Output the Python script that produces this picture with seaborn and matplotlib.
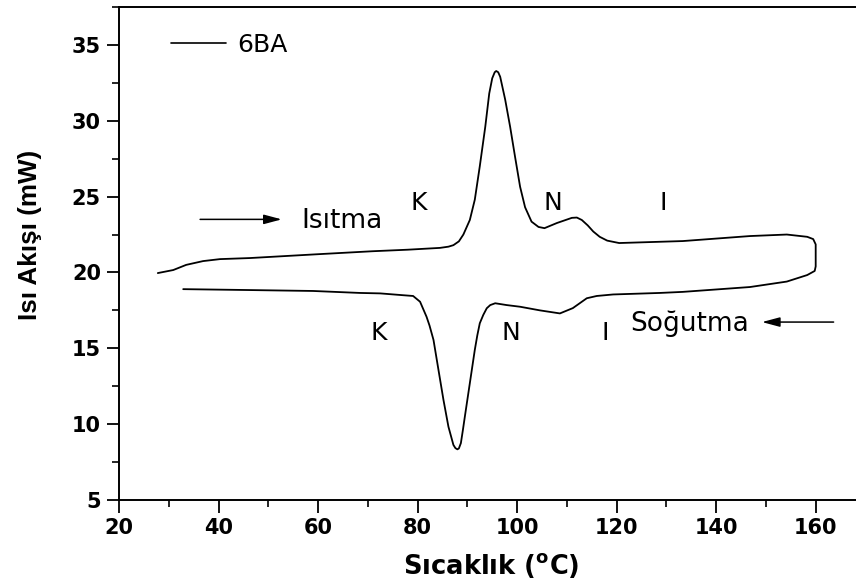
import numpy as np
import pandas as pd
import matplotlib
matplotlib.use("Agg")
import matplotlib.pyplot as plt
from matplotlib.ticker import MultipleLocator
import seaborn as sns

# DSC trace of 6BA: heating run (left to right), then cooling run (right to left)
heating_T = [27.8, 30.9, 33.5, 36.9, 40.3, 46.3, 59.8, 71.0, 78.0, 84.5, 86.2,
             87.2, 88.3, 89.2, 90.5, 91.5, 92.5, 93.6, 94.4, 95.0, 95.5, 95.8,
             96.2, 96.6, 97.6, 98.6, 99.6, 100.6, 101.6, 102.9, 104.3, 105.5,
             108.0, 111.0, 112.0, 113.0, 114.2, 115.3, 116.6, 118.1, 120.5,
             133.3, 146.8, 154.2, 158.3, 159.5, 160.0, 160.0, 159.8]
heating_Q = [19.96, 20.16, 20.5, 20.75, 20.88, 20.95, 21.2, 21.4, 21.5, 21.62,
             21.7, 21.8, 22.05, 22.5, 23.46, 24.8, 27.0, 29.6, 31.8, 32.8, 33.2,
             33.28, 33.2, 32.9, 31.4, 29.6, 27.6, 25.65, 24.3, 23.35, 23.0, 22.92,
             23.26, 23.6, 23.62, 23.46, 23.1, 22.7, 22.35, 22.1, 21.94, 22.07,
             22.4, 22.5, 22.35, 22.2, 21.85, 20.4, 20.1]

cooling_T = [158.3, 154.2, 146.8, 133.3, 128.7, 119.3, 116.0, 114.0, 111.2,
             108.6, 104.6, 100.6, 97.9, 95.6, 94.6, 93.9, 93.2, 92.5, 92.0,
             91.5, 90.5, 89.5, 89.1, 88.7, 88.3, 88.0, 87.6, 87.2, 86.2, 85.2,
             84.2, 83.2, 82.4, 81.8, 80.5, 79.1, 77.1, 72.5, 68.4, 59.0, 46.3,
             32.9]
cooling_Q = [19.83, 19.4, 19.04, 18.72, 18.65, 18.55, 18.45, 18.3, 17.65, 17.3,
             17.5, 17.74, 17.85, 17.97, 17.85, 17.64, 17.2, 16.65, 15.85, 14.9,
             12.7, 10.5, 9.6, 8.75, 8.4, 8.34, 8.42, 8.63, 9.83, 11.6, 13.57,
             15.55, 16.5, 17.08, 18.07, 18.45, 18.5, 18.62, 18.65, 18.78, 18.84,
             18.9]

x_ticks = [20, 40, 60, 80, 100, 120, 140, 160]
y_ticks = [5, 10, 15, 20, 25, 30, 35]

df = pd.DataFrame({
    "T": heating_T + cooling_T,
    "Q": heating_Q + cooling_Q,
})

sns.set_style("ticks")
plt.rcParams["font.family"] = ["DejaVu Sans"]
plt.rcParams["mathtext.default"] = "regular"
plt.rcParams["text.color"] = "black"
plt.rcParams["axes.labelcolor"] = "black"
plt.rcParams["xtick.color"] = "black"
plt.rcParams["ytick.color"] = "black"

fig = plt.figure(figsize=(8.56, 5.87), dpi=100)
ax = fig.add_axes([119 / 856, 87 / 587, 737 / 856, 493 / 587])

sns.lineplot(data=df, x="T", y="Q", sort=False, estimator=None,
             color="black", linewidth=1.3, label="6BA", ax=ax)

ax.set_xlim(20, 168.1)
ax.set_ylim(5, 37.5)
ax.set_xticks(x_ticks)
ax.set_yticks(y_ticks)
ax.xaxis.set_minor_locator(MultipleLocator(10))
ax.yaxis.set_minor_locator(MultipleLocator(2.5))
ax.tick_params(which="major", direction="out", length=9, width=1.3,
               labelsize=15, pad=4, color="black", labelcolor="black")
ax.tick_params(which="minor", direction="out", length=5, width=1.2, color="black")
for lab in ax.get_xticklabels() + ax.get_yticklabels():
    lab.set_fontweight("bold")

for side in ("left", "bottom", "top"):
    ax.spines[side].set_visible(True)
    ax.spines[side].set_linewidth(1.4)
    ax.spines[side].set_color("black")
ax.spines["right"].set_visible(False)

ax.set_xlabel(r"Sıcaklık ($^{o}$C)", fontsize=18.5, fontweight="bold",
              color="black")
ax.set_ylabel("Isı Akışı (mW)", fontsize=18.7, fontweight="bold",
              family="Liberation Sans", color="black")
ax.xaxis.set_label_coords(0.505, -0.103)
ax.yaxis.set_label_coords(-0.105, 0.5375)

leg = ax.legend(loc="center left", bbox_to_anchor=(0.0706, 0.923),
                frameon=False, fontsize=18, handlelength=2.2,
                handletextpad=0.45, borderpad=0, borderaxespad=0)
for h in leg.get_lines():
    h.set_linewidth(1.2)
for t in leg.get_texts():
    t.set_color("black")

# phase labels
phase_kw = dict(fontsize=18, ha="center", va="baseline", color="black")
for label, x in (("K", 80.3), ("N", 107.1), ("I", 129.4)):
    ax.text(x, 24.15, label, **phase_kw)
for label, x in (("K", 72.1), ("N", 98.8), ("I", 117.8)):
    ax.text(x, 15.55, label, **phase_kw)

ax.text(56.7, 22.93, "Isıtma", fontsize=19, ha="left", va="baseline",
        color="black")
ax.text(122.7, 16.17, "Soğutma", fontsize=19, ha="left", va="baseline",
        color="black")

arrow_kw = dict(arrowstyle="-|>,head_length=0.6,head_width=0.16",
                color="black", lw=1.1, mutation_scale=18,
                shrinkA=0, shrinkB=0)
ax.annotate("", xy=(52.7, 23.5), xytext=(36.3, 23.5), arrowprops=arrow_kw)
ax.annotate("", xy=(149.2, 16.73), xytext=(163.6, 16.73), arrowprops=arrow_kw)

fig.savefig("out.png", dpi=100)
